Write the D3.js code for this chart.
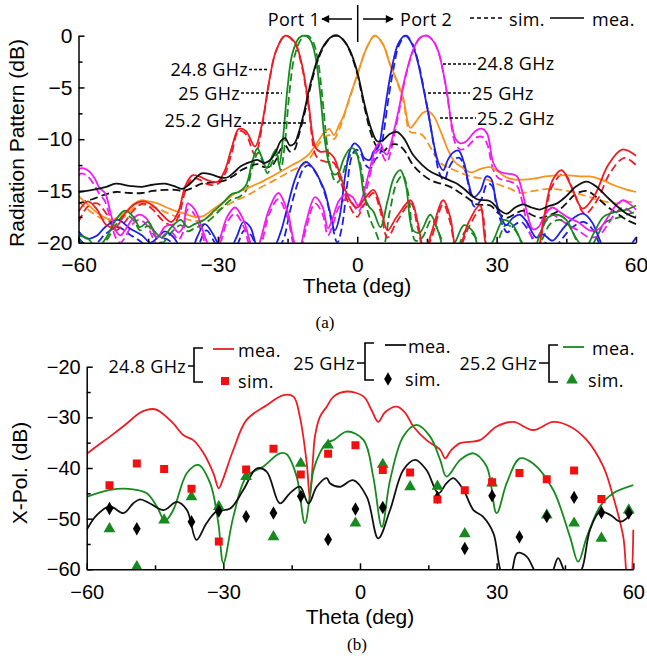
<!DOCTYPE html>
<html>
<head>
<meta charset="utf-8">
<script src="https://d3js.org/d3.v7.min.js"></script>
<style>
body { margin: 0; background: #fff; }
svg { display: block; }
.tick text { font-family: "Liberation Sans", Arial, sans-serif; }
.lbl { font-family: "Liberation Sans", Arial, sans-serif; font-size: 21px; }
.leg { font-family: "Open Sans", "Noto Sans", sans-serif; font-size: 18px; letter-spacing: 0.3px; }
.cap { font-family: "Liberation Serif", "Times New Roman", serif; font-size: 17px; }
</style>
</head>
<body>
<svg width="647" height="658"></svg>
<script>

// ---- (a) radiation pattern, [theta, dB] ----
var redMea = [[-60,-17],[-58,-16],[-56,-16.8],[-54,-18.3],[-52,-18.5],[-50,-17.2],[-48,-16.3],[-46,-16],[-44,-16.4],[-42,-17.3],[-40,-18],[-38.5,-17],[-37,-14.5],[-35.5,-13.5],[-34,-13.6],[-32,-14],[-30,-14.1],[-28.5,-13],[-27,-10.8],[-25.5,-9],[-24,-9.2],[-22,-10.7],[-20.5,-8.5],[-19,-4.5],[-17.5,-1.5],[-15.5,0],[-13.5,-0.6],[-12,-2.6],[-10.5,-6.5],[-9,-10.8],[-8,-11.2],[-6.5,-11.2],[-5,-11.8],[-4,-13],[-2.5,-15],[-1,-16.3],[0,-16.6],[1.5,-15.8],[3.5,-14.9],[5,-16.5],[6.5,-18.8],[8.5,-17.5],[11.5,-15.9],[13,-18],[14.5,-21],[16,-19],[18.5,-15.9],[20,-17.5],[21.5,-21],[24,-18],[26.4,-16.4],[28.2,-21],[33,-23],[38,-22],[40,-18],[42,-14],[44,-13],[46,-14.5],[48.5,-16.7],[51,-15.5],[54,-12.5],[57,-11],[60,-11.6]];
var redSim = [[-60,-18],[-58,-16.5],[-56,-16.2],[-54,-17.2],[-52,-18.8],[-50,-18],[-48,-16.8],[-46,-16.2],[-44,-16.8],[-42,-17.8],[-40,-18.3],[-38.5,-17.5],[-37,-15],[-35.5,-13.8],[-34,-13.9],[-32,-14.4],[-30,-14.3],[-28.5,-13.4],[-27,-11.3],[-25.5,-9.2],[-24,-9.5],[-22,-11.5],[-20.5,-8.8],[-19,-4.6],[-17.5,-1.5],[-15.5,0],[-13.5,-0.7],[-12,-2.8],[-10.5,-6.8],[-9,-11.5],[-8,-12],[-6.5,-12.2],[-5,-12.3],[-4,-13.5],[-2.5,-15.5],[-1,-17],[0,-17.5],[1.5,-16.3],[3.5,-15.2],[5,-17],[6.5,-19.5],[8.5,-18],[11.5,-16.2],[13,-18.5],[14.5,-21],[16,-19.5],[18.5,-16.3],[20,-18],[21.5,-21],[24,-18.5],[26.6,-16.8],[28.4,-21],[33,-23],[38,-22],[40,-18.5],[42,-14.5],[44.5,-13.3],[46.5,-15],[49,-17.2],[51.5,-16],[54.5,-13.2],[57.5,-11.8],[60,-12.5]];

var greenMea = [[-60,-19.3],[-58,-19.6],[-56,-20.5],[-54,-19.5],[-52,-17.8],[-50,-16.9],[-48,-17.6],[-46.8,-18.5],[-45,-18],[-43.8,-18.8],[-42,-19.5],[-40,-18.5],[-38,-17.8],[-36.5,-18.5],[-35,-18.2],[-33,-17.8],[-31,-17],[-29,-16.2],[-27,-15.3],[-25.5,-15.1],[-24,-14.5],[-22.5,-12],[-21.5,-10.9],[-20.5,-11.8],[-19.5,-12.8],[-18.5,-11.8],[-17.5,-11],[-16.8,-12.5],[-16,-10],[-15,-5],[-14,-1.8],[-12.5,-0.2],[-11.2,0],[-10,-0.5],[-9,-2],[-8,-5.5],[-7,-10],[-6,-12.5],[-5,-13.4],[-4,-13.2],[-3,-12],[-1.5,-10.9],[-0.5,-11],[0.5,-12.5],[1.5,-15.5],[2.5,-16.5],[3.5,-17],[5,-18.5],[6.5,-16],[8,-13.6],[9.3,-13],[10.5,-14.5],[12,-18.8],[13.5,-19],[15.7,-17.3],[17.5,-19],[19,-21],[21,-20],[23,-18.3],[25,-19],[26.5,-21],[29,-20],[31.5,-17.8],[33.5,-18.3],[35.5,-20],[37.5,-21],[39.5,-19],[41,-17.6],[43,-17.3],[45,-17.8],[47,-19.5],[49,-20.5],[51,-19],[53,-17.5],[56,-17],[58,-16.8],[60,-16.4]];
var greenSim = [[-60,-19.8],[-58,-20.3],[-56,-20.8],[-54,-19.8],[-52,-18.3],[-50,-17.3],[-48,-17.9],[-46.8,-18.8],[-45,-18.4],[-43.8,-19.2],[-42,-20],[-40,-19],[-38,-18.3],[-36.5,-18.9],[-35,-18.6],[-33,-18.2],[-31,-17.5],[-29,-16.6],[-27,-15.8],[-25.5,-15.6],[-24,-15],[-22.5,-12.6],[-21.3,-11.3],[-20.3,-12.3],[-19.3,-13.3],[-18.3,-12.2],[-17.3,-11.5],[-16.5,-13],[-15.6,-10.5],[-14.6,-5.5],[-13.5,-2],[-12,-0.3],[-10.7,0],[-9.5,-0.6],[-8.5,-2.3],[-7.5,-6],[-6.5,-10.5],[-5.5,-13.3],[-4.5,-14.2],[-3.5,-13.8],[-2.5,-12.5],[-1,-11.3],[0,-11.5],[1,-13.2],[2,-16.5],[3,-18],[4,-19],[5.5,-20.5],[7,-17],[8.5,-14.2],[9.8,-13.5],[11,-15.3],[12.5,-19.8],[14,-19.5],[16,-17.8],[18,-19.5],[19.5,-21],[21.5,-20.5],[23.5,-18.8],[25.5,-19.5],[27,-21],[29.5,-20.5],[32,-18.3],[34,-18.8],[36,-20.5],[38,-21],[40,-19.5],[41.5,-18.2],[43.5,-17.8],[45.5,-18.3],[47.5,-20],[49.5,-21],[51.5,-19.5],[53.5,-18],[56,-17.6],[58,-17.3],[60,-17]];

var blackMea = [[-60,-15.1],[-57,-14.9],[-54,-14.6],[-52,-14.3],[-49,-14.5],[-46.3,-14.6],[-44,-14.4],[-41.4,-14.3],[-39,-14.6],[-37.7,-14.8],[-36,-14.3],[-33.5,-13.3],[-31.5,-13.4],[-29.5,-13.7],[-28,-13.7],[-26.5,-13.2],[-25,-12.6],[-23,-12.2],[-21.5,-12],[-20,-12.3],[-18.5,-11.9],[-17.5,-11.2],[-16.5,-10.2],[-15.5,-9.9],[-14.5,-10.6],[-13.5,-10.4],[-12.7,-9.5],[-11.5,-7.5],[-10,-4.5],[-8.5,-2.2],[-7,-0.8],[-5.5,-0.1],[-4.2,0],[-3,-0.4],[-1.6,-1.4],[0,-3.5],[1.5,-6.5],[3,-9],[4.3,-10.2],[5.5,-10.1],[7,-9.5],[8.5,-9.3],[10,-9.9],[12,-11.5],[14,-12.5],[16,-13.2],[18,-13.6],[20,-14],[21.5,-14.3],[23.5,-15],[25.8,-15.8],[28.6,-16],[30.5,-16.8],[32.2,-17.2],[34,-16.6],[35.7,-16.3],[37.5,-16.6],[39.3,-16.8],[41,-16.5],[43,-16.2],[45,-15.5],[47,-14.6],[49.4,-14.1],[51.5,-14.6],[53.8,-15.6],[56,-16.5],[58,-17.2],[60,-17.6]];
var blackSim = [[-60,-16.2],[-57,-15.8],[-54,-15.3],[-52,-15.1],[-49,-15.2],[-46.3,-15.2],[-44,-15],[-41.4,-14.9],[-39,-14.9],[-37.7,-15],[-36,-14.8],[-33.5,-14.3],[-31.5,-14.2],[-29.5,-14.1],[-28,-13.9],[-26.5,-13.5],[-25,-13],[-23,-12.6],[-21.5,-12.4],[-20,-12.7],[-18.5,-12.6],[-17.5,-12],[-16.5,-11],[-15.5,-10.6],[-14.5,-11.2],[-13.5,-11],[-12.7,-9.8],[-11.5,-7.8],[-10,-4.8],[-8.5,-2.4],[-7,-0.9],[-5.5,-0.1],[-4.2,0],[-3,-0.4],[-1.6,-1.5],[0,-3.7],[1.5,-6.8],[3,-9.5],[4.3,-10.8],[5.5,-11.2],[7,-10.6],[8.5,-10.5],[10,-11],[12,-12.5],[14,-13.4],[16,-14],[18,-14.3],[20,-14.6],[21.5,-15],[23.5,-15.6],[25.8,-16.3],[28.6,-16.4],[30.5,-17.2],[32.2,-17.6],[34,-17.2],[35.7,-16.9],[37.5,-17.3],[39.3,-17.6],[41,-17.4],[43,-17],[45,-16.2],[47,-15.3],[49.4,-15],[51.5,-15.6],[53.8,-16.5],[56,-17.2],[58,-17.8],[60,-18.2]];

var orangeMea = [[-60,-15.5],[-58,-16.3],[-55.7,-17.2],[-53,-17.8],[-51,-17.4],[-49.6,-16.9],[-48,-16.2],[-46.6,-15.9],[-45,-16],[-43,-16.2],[-41,-16.6],[-39.4,-16.9],[-37,-17.2],[-35,-17.5],[-33,-17.4],[-32,-17.1],[-30.5,-16.6],[-28,-15.8],[-26.5,-15.3],[-24,-14.8],[-22,-14.4],[-20.5,-14.1],[-18,-13.5],[-16,-13],[-14,-12.5],[-12,-12],[-10.5,-11.5],[-9,-10.6],[-8,-9.9],[-7,-9.3],[-6,-9],[-5,-9.6],[-4,-8.7],[-3,-7.8],[-1.6,-5.9],[0,-3.8],[2,-1.2],[3.8,0],[5.5,-0.8],[7,-2.7],[8.5,-4.3],[9.9,-6],[11.4,-8.9],[12.8,-8.2],[14,-7.5],[15.2,-7.3],[16.5,-7.8],[18,-9.3],[19.5,-11],[21,-12.2],[22.5,-12.7],[24.5,-13.2],[26.4,-12.9],[28.6,-12.7],[30.5,-13.2],[32.2,-13.7],[34,-13.9],[35.8,-13.9],[38,-13.8],[40.5,-13.6],[43,-13.5],[45.5,-13.5],[48,-13.6],[50,-13.6],[52.5,-13.9],[55,-14.4],[57.5,-14.8],[60,-15.1]];
var orangeSim = [[-60,-16],[-58,-16.8],[-55.7,-17.5],[-53,-18],[-51,-17.8],[-49.6,-17.3],[-48,-16.6],[-46.6,-16.3],[-45,-16.4],[-43,-16.7],[-41,-17.1],[-39.4,-17.4],[-37,-17.7],[-35,-17.9],[-33,-17.8],[-32,-17.5],[-30.5,-17],[-28,-16.4],[-26.5,-16],[-24,-15.5],[-22,-15],[-20.5,-14.6],[-18,-14],[-16,-13.5],[-14,-13],[-12,-12.6],[-10.5,-12],[-9,-11],[-8,-10.3],[-7,-9.8],[-6,-9.6],[-5,-10],[-4,-9.2],[-3,-8],[-1.6,-6],[0,-3.8],[2,-1.2],[3.8,0],[5.5,-0.8],[7,-2.7],[8.5,-4.4],[9.9,-6.3],[11.4,-9.3],[12.8,-9.4],[14,-9.6],[15.5,-10.6],[17,-11.8],[18.5,-12.5],[20,-12.8],[22,-13.2],[24.5,-13.6],[27.9,-13.9],[30.5,-14.4],[33,-14.8],[35,-15.2],[38,-15],[41,-14.8],[44,-14.9],[47,-15.2],[50,-15.6],[53,-16],[56,-16.2],[58,-16],[60,-16.2]];

var blueMea = [[-60,-18.9],[-58.2,-19.6],[-56,-19.3],[-54.3,-18.5],[-51.5,-17.8],[-49,-18.6],[-46.3,-19.3],[-44.5,-20],[-43,-19.5],[-41.4,-18.9],[-39.5,-19.5],[-38,-20.5],[-36,-21],[-34.5,-19.5],[-32.8,-18.2],[-31,-19.2],[-29.5,-20.5],[-28,-21],[-26,-19.5],[-24.5,-18],[-23,-18.5],[-21.5,-20.5],[-20,-21],[-18,-20.5],[-16.5,-19],[-15,-16.5],[-13.5,-14],[-12,-12.5],[-11,-12.2],[-9.5,-12.8],[-8,-14],[-7,-15],[-6,-16.8],[-4.8,-18.8],[-3.8,-17.5],[-2.6,-13.5],[-1.5,-11],[-0.6,-10.4],[0.5,-10.8],[1.5,-11.8],[2.7,-12],[3.5,-11.2],[4.5,-10.8],[5.5,-8.5],[6.5,-5.5],[7.5,-3],[8.8,-0.8],[10.3,0],[11.8,-0.8],[13,-2.5],[14.2,-5],[15.5,-8],[16.5,-10.5],[17.5,-12.3],[18.5,-13],[19.5,-12],[20.6,-11.3],[21.8,-11.1],[23,-12.3],[24,-14.3],[25,-15.6],[26.5,-15],[27.8,-13.6],[28.8,-13.8],[29.8,-15.8],[30.7,-17.2],[32,-18.3],[33.5,-17.6],[35,-17.3],[36.5,-18],[38.5,-19.5],[40,-19.2],[42,-19.8],[44,-18.8],[46,-17.8],[48.6,-17.2],[50.5,-18],[52,-19.5],[53.5,-21],[56,-22],[60,-22]];
var blueSim = [[-60,-19.5],[-58.2,-20.3],[-56,-20],[-54.3,-19.2],[-51.5,-18.5],[-49,-19.2],[-46.3,-20],[-44.5,-20.8],[-43,-20.3],[-41.4,-19.6],[-39.5,-20.2],[-38,-21],[-36,-21],[-34.3,-20.3],[-32.5,-18.8],[-30.8,-19.9],[-29.3,-21],[-28,-21],[-26,-20.3],[-24.3,-18.8],[-22.8,-19.3],[-21.3,-21],[-20,-21.5],[-18,-21],[-16,-19.8],[-14.5,-17],[-13,-14.5],[-11.5,-12.8],[-10.5,-12.5],[-9,-13.2],[-7.5,-14.6],[-6.5,-16],[-5.5,-18],[-4.3,-20],[-3.3,-18.5],[-2.2,-14.5],[-1.2,-11.7],[-0.3,-11],[0.8,-11.4],[1.8,-12.5],[2.9,-12.8],[3.8,-12],[4.8,-11.5],[5.8,-9],[6.8,-5.8],[7.8,-3.2],[9,-0.9],[10.5,0],[12,-0.9],[13.2,-2.7],[14.4,-5.3],[15.7,-8.5],[16.7,-11.2],[17.7,-13.3],[18.7,-14],[19.7,-12.8],[20.8,-12],[22,-11.8],[23.2,-13],[24.2,-15],[25.2,-16.5],[26.7,-15.8],[28,-14.3],[29,-14.5],[30,-16.5],[31,-18],[32.3,-19],[33.8,-18.3],[35.3,-18],[36.8,-18.8],[38.8,-20.3],[40.3,-20],[42.3,-20.5],[44.3,-19.5],[46.3,-18.5],[48.8,-18],[50.8,-18.8],[52.3,-20.3],[54,-21.5],[56,-22],[58,-20.8],[60,-19.5]];

var magentaMea = [[-60,-13],[-59.4,-12.8],[-58,-13],[-56.5,-13.8],[-55.5,-14.7],[-54.3,-15.2],[-53,-17.3],[-52,-18.8],[-51,-19.3],[-50,-18.8],[-48.5,-17.8],[-47,-17.3],[-45.5,-17.6],[-44,-18.8],[-43,-19.5],[-41.5,-18.5],[-40,-18.3],[-38.5,-19],[-37.5,-18.5],[-36.5,-16.2],[-35.5,-16.5],[-34.5,-17.2],[-33.5,-18.5],[-32.3,-20],[-31,-21],[-29.5,-19.5],[-28,-17.5],[-26.3,-16.6],[-24.5,-17.8],[-23,-20],[-22,-21],[-21,-20],[-19,-16.8],[-17,-15.2],[-15,-17],[-13.5,-20],[-12.5,-20.5],[-11,-18],[-9.1,-15.6],[-7.5,-16.5],[-6.3,-18.6],[-5.2,-17.5],[-4,-16],[-2.5,-15.3],[-1,-15.6],[0.2,-16.4],[1.2,-15.5],[2.2,-13.8],[3.2,-12],[4.2,-10.6],[5,-10.4],[5.7,-11.2],[6.4,-11.5],[7.2,-10.5],[8,-9],[9,-7],[10,-4.6],[11,-2.8],[12,-1.4],[13.5,-0.2],[15,0],[16.5,-0.6],[17.5,-1.6],[18.5,-3.5],[19.5,-6],[20.3,-8.5],[21.2,-10],[22.2,-10.4],[23.5,-10.2],[24.8,-9.5],[25.8,-9.1],[27,-9],[28,-9.5],[29.3,-12.3],[30.5,-13.1],[32,-13.3],[33.5,-13.4],[34.4,-13.6],[35.5,-15],[36.5,-17],[37.8,-18.7],[39,-18.5],[40.5,-17.2],[42,-16.6],[43.5,-17],[45.5,-17.6],[47.5,-18],[50,-18.8],[52,-18.7],[54,-17.5],[55.5,-16.5],[57.2,-15.9],[58.5,-16.2],[60,-16.8]];
var magentaSim = [[-60,-13.5],[-59.4,-13.3],[-58,-13.6],[-56.5,-14.5],[-55.5,-15.3],[-54.3,-16],[-53,-18],[-52,-19.5],[-51,-20],[-50,-19.5],[-48.5,-18.3],[-47,-17.8],[-45.5,-18.2],[-44,-19.5],[-43,-20.2],[-41.5,-19.2],[-40,-19],[-38.5,-19.7],[-37.5,-19],[-36.5,-16.8],[-35.5,-17],[-34.5,-17.8],[-33.5,-19],[-32.3,-20.5],[-31,-21],[-29.5,-20],[-28,-18],[-26.3,-17.2],[-24.5,-18.4],[-23,-20.5],[-22,-21],[-21,-20.6],[-19,-17.3],[-17,-15.8],[-15,-17.6],[-13.5,-20.5],[-12.5,-21],[-11,-18.6],[-9.1,-16.2],[-7.5,-17.2],[-6.3,-19.3],[-5.2,-18.2],[-4,-16.6],[-2.5,-15.8],[-1,-16.2],[0.2,-17],[1.2,-16.2],[2.2,-14.5],[3.2,-12.6],[4.2,-11.2],[5,-11],[5.7,-11.8],[6.4,-12.2],[7.2,-11.2],[8,-9.5],[9,-7.3],[10,-4.8],[11,-2.9],[12,-1.5],[13.5,-0.2],[15,0],[16.5,-0.6],[17.5,-1.6],[18.5,-3.5],[19.5,-6.2],[20.3,-8.8],[21.2,-10.5],[22.2,-11],[23.5,-10.8],[24.8,-10.2],[25.8,-9.8],[27,-9.8],[28,-10.5],[29.3,-13],[30.5,-13.8],[32,-14],[33.5,-14.2],[34.4,-14.5],[35.5,-16],[36.5,-18],[37.8,-19.5],[39,-19.3],[40.5,-18],[42,-17.3],[43.5,-17.7],[45.5,-18.3],[47.5,-18.8],[50,-19.5],[52,-19.3],[54,-18.2],[55.5,-17.2],[57.2,-16.6],[58.5,-16.9],[60,-17.5]];

// ---- (b) cross polarization ----
var xpolRedMea = [[-60,-37.2],[-57.5,-35.5],[-54.9,-33.8],[-51.2,-31.2],[-48.5,-29.2],[-46.8,-28.5],[-45,-28.4],[-43.9,-28.9],[-41,-31.2],[-38.8,-33.5],[-36.6,-34.5],[-34.4,-37],[-32.2,-41],[-31,-44],[-30.2,-42.5],[-27.8,-36.4],[-24.9,-30.5],[-20.5,-27.6],[-16.8,-25.6],[-14.6,-25.9],[-13.2,-29.9],[-11.7,-39],[-11,-46],[-10.3,-38],[-9.9,-33.8],[-8.8,-29.9],[-7.3,-27.9],[-5.8,-25.9],[-2.9,-24.9],[0.8,-25.9],[2.5,-28.5],[4,-30.9],[5.5,-29],[8.1,-27.9],[10,-29.2],[11.7,-31.8],[14.6,-34.5],[17.6,-36.4],[18.7,-38.1],[20,-36.5],[22,-35.1],[26.3,-34.5],[30,-31.8],[33.7,-30.9],[38,-32.5],[42.4,-30.9],[46.1,-31.8],[49.8,-34.5],[53.4,-39.7],[55.6,-45.7],[57.8,-53.6],[58.7,-62],[59.3,-63],[60,-52.2]];
var xpolGreenMea = [[-60,-45.7],[-54.9,-44.3],[-49.8,-44.2],[-46.8,-45],[-44.6,-47.6],[-42.8,-50.4],[-41,-48.3],[-38,-41],[-35.5,-39.4],[-32.9,-43],[-31.1,-50.9],[-30,-58.8],[-27.8,-49.6],[-24.9,-41.7],[-21.2,-39.7],[-17.6,-37.1],[-16.1,-37.3],[-13.9,-41.7],[-12.1,-50.9],[-10.2,-40.4],[-8.8,-37],[-7.3,-35],[-5.8,-34.5],[-2.9,-32.8],[0.8,-34.5],[2.9,-41.7],[4.8,-51.6],[6.6,-42.4],[9.5,-33.8],[12.4,-31.5],[15.4,-33.8],[17.6,-38.4],[19,-41.7],[22,-38.4],[24.9,-37.1],[27.8,-39.7],[30,-48.9],[32.2,-43],[35.1,-38.1],[38,-39.1],[42.4,-44.3],[46.1,-53.6],[47.9,-58.5],[49.8,-53.6],[52.7,-47.6],[55.6,-45],[60,-43.4]];
var xpolBlackMea = [[-60,-52.2],[-57.8,-49.3],[-54.9,-47.6],[-51.9,-48.9],[-49.8,-47],[-48.3,-46.2],[-46.1,-47],[-43.1,-48.3],[-40.2,-46.7],[-38,-48.3],[-35.9,-54.2],[-33.7,-50.9],[-31.5,-48.6],[-28.5,-48],[-25.6,-44.3],[-22.7,-40.1],[-20.5,-40.7],[-17.6,-47],[-15.4,-45],[-13.2,-43.7],[-11.3,-47],[-9.5,-43.7],[-7.3,-42],[-6.6,-43],[-4.4,-43.7],[-1.5,-42.4],[1.5,-45.7],[4,-53.9],[6.6,-48.3],[9.5,-40.4],[12.1,-38.4],[14.6,-40.4],[17.2,-45],[19,-43],[20.5,-42],[22.7,-44.3],[24.9,-48.3],[27,-49.6],[29.3,-52.9],[31.3,-61],[33,-61],[34.5,-56.8],[36.6,-57.5],[38.5,-60.5],[40.5,-62],[42,-61],[43.5,-57.8],[45,-60.5],[47,-62],[48.7,-60],[50.5,-52.2],[52.7,-48.6],[55,-49.3],[57.2,-50.6],[60,-48.6]];

var simTheta = [-55,-49,-43,-37,-31,-25,-19,-13,-7,-1,5,11,17,23,29,35,41,47,53,59];
var xpolRedSim   = [-43.4,-39.1,-40.2,-44.1,-54.5,-40.3,-36.2,-41.3,-37.2,-35.5,-40.4,-40.9,-46.2,-44.4,-42.8,-41,-42.2,-40.5,-46.1,null];
var xpolBlackSim = [-48,-52,null,-50.6,-48.5,-49.6,-48.9,-45.6,-54.1,-48.1,-47.8,null,-45.8,-55.9,-45.5,-53.6,-49.6,-45.8,-48.8,-48.9];
var xpolGreenSim = [-52,-59.5,-50.3,-45.7,-47.6,-41.7,-53.6,-39.1,-35.5,-50.9,-39.3,-43.7,-43.6,-53,-43,null,-49.3,-50.9,-53.9,-48.3];

var C = { red: "#ee1c24", green: "#168a1e", black: "#111111", orange: "#f7931e", blue: "#1f1fe6", magenta: "#f01cf0" };

var svg = d3.select("svg");

function drawAxes(g, x, y, yMajor, yMinor, xMajor, xMinor, labPadX, fs) {
  g.append("g").attr("transform", "translate(" + x.range()[0] + ",0)")
    .call(d3.axisLeft(y).tickValues(yMajor).tickSize(-6).tickSizeOuter(0).tickPadding(6))
    .call(function (a) { a.selectAll("text").style("font-size", fs + "px"); });
  g.append("g").attr("transform", "translate(" + x.range()[0] + ",0)")
    .call(d3.axisLeft(y).tickValues(yMinor).tickSize(-4).tickFormat(""))
    .call(function (a) { a.select(".domain").remove(); });
  g.append("g").attr("transform", "translate(0," + y.range()[0] + ")")
    .call(d3.axisBottom(x).tickValues(xMajor).tickSize(-6).tickSizeOuter(0).tickPadding(labPadX))
    .call(function (a) { a.selectAll("text").style("font-size", fs + "px"); });
  g.append("g").attr("transform", "translate(0," + y.range()[0] + ")")
    .call(d3.axisBottom(x).tickValues(xMinor).tickSize(-4).tickFormat(""))
    .call(function (a) { a.select(".domain").remove(); });
  g.selectAll(".domain, .tick line").attr("stroke", "#000").attr("stroke-width", 1.5);
}

// ---------- plot (a) ----------
var xa = d3.scaleLinear().domain([-60, 60]).range([78.5, 636]);
var ya = d3.scaleLinear().domain([-20, 0]).range([242.7, 35.7]);

svg.append("clipPath").attr("id", "clipA").append("rect")
  .attr("x", 78.5).attr("y", 30).attr("width", 560).attr("height", 242.7 - 30);

var lineA = d3.line().x(function (d) { return xa(d[0]); }).y(function (d) { return ya(d[1]); })
  .curve(d3.curveCatmullRom.alpha(0.5));

var seriesA = [
  { c: C.orange, mea: orangeMea, sim: orangeSim },
  { c: C.blue, mea: blueMea, sim: blueSim },
  { c: C.magenta, mea: magentaMea, sim: magentaSim },
  { c: C.green, mea: greenMea, sim: greenSim },
  { c: C.red, mea: redMea, sim: redSim },
  { c: C.black, mea: blackMea, sim: blackSim }
];

var ga = svg.append("g").attr("clip-path", "url(#clipA)");
seriesA.forEach(function (s) {
  ga.append("path").attr("d", lineA(s.sim)).attr("fill", "none").attr("stroke", s.c)
    .attr("stroke-width", 1.8).attr("stroke-dasharray", "8,4");
});
seriesA.forEach(function (s) {
  ga.append("path").attr("d", lineA(s.mea)).attr("fill", "none").attr("stroke", s.c)
    .attr("stroke-width", 1.8);
});

drawAxes(svg.append("g"), xa, ya, [0, -5, -10, -15, -20], [-2.5, -7.5, -12.5, -17.5],
  [-60, -30, 0, 30, 60], [-45, -15, 15, 45], 14, 21);

svg.append("text").attr("class", "lbl").attr("x", 357).attr("y", 293).attr("text-anchor", "middle").text("Theta (deg)");
svg.append("text").attr("class", "lbl").attr("transform", "translate(24,143) rotate(-90)")
  .attr("text-anchor", "middle").text("Radiation Pattern (dB)");
svg.append("text").attr("class", "cap").attr("x", 325).attr("y", 328).attr("text-anchor", "middle").text("(a)");

// legend (a)
var leg = svg.append("g").attr("class", "leg");
leg.append("text").attr("x", 320).attr("y", 26).attr("text-anchor", "end").text("Port 1");
leg.append("text").attr("x", 400).attr("y", 26).text("Port 2");
leg.append("text").attr("x", 509).attr("y", 26).text("sim.");
leg.append("text").attr("x", 592).attr("y", 26).text("mea.");
svg.append("defs").append("marker").attr("id", "arr").attr("viewBox", "0 0 10 10")
  .attr("refX", 9).attr("refY", 5).attr("markerWidth", 10).attr("markerHeight", 8)
  .attr("markerUnits", "userSpaceOnUse").attr("orient", "auto")
  .append("path").attr("d", "M0,0L10,5L0,10Z").attr("fill", "#000");
svg.append("line").attr("x1", 352).attr("x2", 322).attr("y1", 19).attr("y2", 19)
  .attr("stroke", "#000").attr("stroke-width", 1.5).attr("marker-end", "url(#arr)");
svg.append("line").attr("x1", 363).attr("x2", 393).attr("y1", 19).attr("y2", 19)
  .attr("stroke", "#000").attr("stroke-width", 1.5).attr("marker-end", "url(#arr)");
svg.append("line").attr("x1", 357.7).attr("x2", 357.7).attr("y1", 5).attr("y2", 42)
  .attr("stroke", "#000").attr("stroke-width", 1.5);
svg.append("line").attr("x1", 470).attr("x2", 502).attr("y1", 18).attr("y2", 18)
  .attr("stroke", "#000").attr("stroke-width", 1.5).attr("stroke-dasharray", "4,3");
svg.append("line").attr("x1", 550).attr("x2", 584).attr("y1", 18).attr("y2", 18)
  .attr("stroke", "#000").attr("stroke-width", 1.5);

var notes = [
  { t: "24.8 GHz", tx: 248, ty: 76, x1: 249, x2: 268, y: 69.5, a: "end" },
  { t: "25 GHz", tx: 240, ty: 100, x1: 241, x2: 282, y: 93, a: "end" },
  { t: "25.2 GHz", tx: 242, ty: 127, x1: 243, x2: 307, y: 123, a: "end" },
  { t: "24.8 GHz", tx: 477, ty: 70, x1: 443, x2: 476, y: 64, a: "start" },
  { t: "25 GHz", tx: 472, ty: 100, x1: 428, x2: 470, y: 93, a: "start" },
  { t: "25.2 GHz", tx: 477, ty: 125, x1: 440, x2: 476, y: 118, a: "start" }
];
notes.forEach(function (n) {
  leg.append("text").attr("x", n.tx).attr("y", n.ty).attr("text-anchor", n.a).text(n.t);
  svg.append("line").attr("x1", n.x1).attr("x2", n.x2).attr("y1", n.y).attr("y2", n.y)
    .attr("stroke", "#000").attr("stroke-width", 1.5).attr("stroke-dasharray", "3,2");
});

// ---------- plot (b) ----------
var xb = d3.scaleLinear().domain([-60, 60]).range([86.7, 633.3]);
var yb = d3.scaleLinear().domain([-60, -20]).range([569.3, 366.7]);

svg.append("clipPath").attr("id", "clipB").append("rect")
  .attr("x", 86.7).attr("y", 360).attr("width", 552).attr("height", 569.3 - 360);

var lineB = d3.line().x(function (d) { return xb(d[0]); }).y(function (d) { return yb(d[1]); })
  .curve(d3.curveCatmullRom.alpha(0.5));

var gb = svg.append("g").attr("clip-path", "url(#clipB)");
[[xpolRedMea, C.red], [xpolGreenMea, C.green], [xpolBlackMea, C.black]].forEach(function (s) {
  gb.append("path").attr("d", lineB(s[0])).attr("fill", "none").attr("stroke", s[1]).attr("stroke-width", 1.8);
});

function simPts(vals) {
  return simTheta.map(function (t, i) { return [t, vals[i]]; }).filter(function (d) { return d[1] !== null; });
}
var symSq = d3.symbol().type(d3.symbolSquare).size(64);
var symDi = d3.symbol().type(d3.symbolDiamond).size(52);
var symTr = d3.symbol().type(d3.symbolTriangle).size(60);

gb.selectAll(".tri").data(simPts(xpolGreenSim)).enter().append("path")
  .attr("d", symTr).attr("fill", C.green)
  .attr("transform", function (d) { return "translate(" + xb(d[0]) + "," + yb(d[1]) + ")"; });
gb.selectAll(".dia").data(simPts(xpolBlackSim)).enter().append("path")
  .attr("d", symDi).attr("fill", "#000")
  .attr("transform", function (d) { return "translate(" + xb(d[0]) + "," + yb(d[1]) + ")"; });
gb.selectAll(".sq").data(simPts(xpolRedSim)).enter().append("path")
  .attr("d", symSq).attr("fill", "#f01010")
  .attr("transform", function (d) { return "translate(" + xb(d[0]) + "," + yb(d[1]) + ")"; });

drawAxes(svg.append("g"), xb, yb, [-20, -30, -40, -50, -60], [-25, -35, -45, -55],
  [-60, -30, 0, 30, 60], [-45, -15, 15, 45], 16, 20);

svg.append("text").attr("class", "lbl").attr("x", 360).attr("y", 624).attr("text-anchor", "middle").text("Theta (deg)");
svg.append("text").attr("class", "lbl").attr("transform", "translate(27,473) rotate(-90)")
  .attr("text-anchor", "middle").text("X-Pol. (dB)");
svg.append("text").attr("class", "cap").attr("x", 357).attr("y", 650).attr("text-anchor", "middle").text("(b)");

// legend (b)
var legB = [
  { t: "24.8 GHz", te: 186, ty: 373, bx: 194, by: 366, top: 348, bot: 382, c: C.red, lx: 213, ly: 349, mx: 238, my: 357, sx: 225, sy: 381, simx: 238, simy: 388, sym: symSq, f: "#f01010" },
  { t: "25 GHz", te: 355, ty: 370, bx: 365, by: 363, top: 343, bot: 380, c: C.black, lx: 385, ly: 345, mx: 408, my: 353, sx: 388, sy: 379, simx: 405, simy: 386, sym: symDi, f: "#000" },
  { t: "25.2 GHz", te: 537, ty: 370, bx: 549, by: 363, top: 345, bot: 382, c: C.green, lx: 563, ly: 347, mx: 592, my: 355, sx: 572, sy: 380, simx: 588, simy: 387, sym: symTr, f: C.green }
];
legB.forEach(function (L) {
  leg.append("text").attr("x", L.te).attr("y", L.ty).attr("text-anchor", "end").text(L.t);
  svg.append("path").attr("fill", "none").attr("stroke", "#000").attr("stroke-width", 1.6)
    .attr("d", "M" + (L.te + 2) + "," + L.by + "H" + L.bx + "M" + (L.bx + 9) + "," + L.top + "H" + L.bx + "V" + L.bot + "H" + (L.bx + 9));
  svg.append("line").attr("x1", L.lx).attr("x2", L.lx + 21).attr("y1", L.ly).attr("y2", L.ly)
    .attr("stroke", L.c).attr("stroke-width", 1.8);
  leg.append("text").attr("x", L.mx).attr("y", L.my).text("mea.");
  svg.append("path").attr("d", L.sym).attr("fill", L.f)
    .attr("transform", "translate(" + L.sx + "," + L.sy + ")");
  leg.append("text").attr("x", L.simx).attr("y", L.simy).text("sim.");
});

</script>
</body>
</html>
